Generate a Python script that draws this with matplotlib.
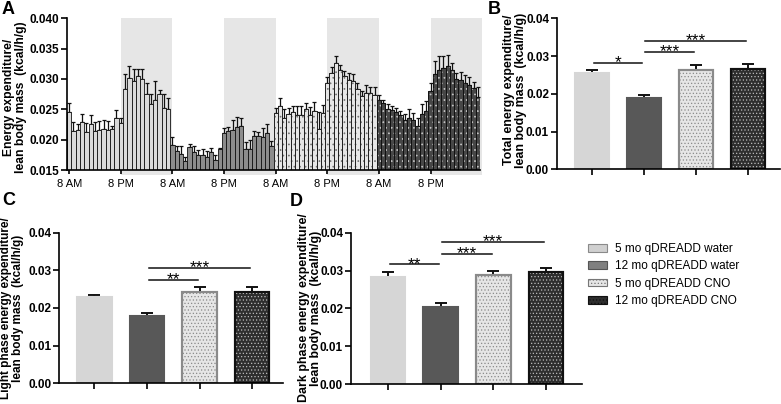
import matplotlib
matplotlib.use('Agg')
import matplotlib.pyplot as plt
from matplotlib.patches import Patch
import numpy as np

plt.rcParams['font.family'] = ['Liberation Sans', 'DejaVu Sans']
plt.rcParams['hatch.linewidth'] = 0.5

groups = ['5 mo qDREADD water', '12 mo qDREADD water',
          '5 mo qDREADD CNO', '12 mo qDREADD CNO']

# panel A: hourly energy expenditure, 24 h per group starting at 8 AM
g1_mean = [0.0245, 0.0214, 0.0216, 0.0229, 0.0213, 0.0225, 0.0214, 0.0216,
           0.0217, 0.0216, 0.0217, 0.0235, 0.0228, 0.0283, 0.0302, 0.0297,
           0.0305, 0.0300, 0.0276, 0.0259, 0.0266, 0.0276, 0.0253, 0.0250]
g1_err = [0.0016, 0.0015, 0.0010, 0.0014, 0.0015, 0.0015, 0.0015, 0.0014,
          0.0015, 0.0015, 0.0006, 0.0014, 0.0008, 0.0025, 0.0019, 0.0020,
          0.0012, 0.0016, 0.0018, 0.0017, 0.0030, 0.0006, 0.0022, 0.0018]
g2_mean = [0.0192, 0.0181, 0.0177, 0.0165, 0.0188, 0.0180, 0.0174, 0.0175,
           0.0171, 0.0180, 0.0167, 0.0184, 0.0211, 0.0214, 0.0216, 0.0221,
           0.0222, 0.0185, 0.0185, 0.0206, 0.0206, 0.0204, 0.0211, 0.0190]
g2_err = [0.0012, 0.0009, 0.0013, 0.0007, 0.0005, 0.0009, 0.0009, 0.0010,
          0.0011, 0.0006, 0.0007, 0.0003, 0.0008, 0.0007, 0.0016, 0.0016,
          0.0014, 0.0011, 0.0015, 0.0008, 0.0006, 0.0016, 0.0014, 0.0008]
g3_mean = [0.0244, 0.0256, 0.0235, 0.0243, 0.0246, 0.0241, 0.0241, 0.0250,
           0.0241, 0.0248, 0.0218, 0.0244, 0.0293, 0.0310, 0.0326, 0.0314,
           0.0305, 0.0299, 0.0296, 0.0284, 0.0272, 0.0277, 0.0277, 0.0274]
g3_err = [0.0009, 0.0012, 0.0016, 0.0009, 0.0010, 0.0015, 0.0015, 0.0010,
          0.0013, 0.0014, 0.0027, 0.0013, 0.0010, 0.0009, 0.0012, 0.0009,
          0.0008, 0.0011, 0.0012, 0.0010, 0.0008, 0.0013, 0.0010, 0.0013]
g4_mean = [0.0266, 0.0260, 0.0251, 0.0249, 0.0245, 0.0240, 0.0233, 0.0236,
           0.0233, 0.0222, 0.0243, 0.0248, 0.0280, 0.0309, 0.0315, 0.0318,
           0.0321, 0.0315, 0.0300, 0.0298, 0.0294, 0.0290, 0.0285, 0.0271]
g4_err = [0.0008, 0.0006, 0.0008, 0.0006, 0.0008, 0.0007, 0.0010, 0.0015,
          0.0011, 0.0013, 0.0015, 0.0015, 0.0013, 0.0020, 0.0023, 0.0020,
          0.0018, 0.0012, 0.0010, 0.0013, 0.0012, 0.0014, 0.0010, 0.0015]
hour_ticks = ['8 AM', '8 PM'] * 4

# panels B-D: group means
total_mean = [0.0254, 0.0190, 0.0262, 0.0267]
total_err = [0.0009, 0.0008, 0.0014, 0.0012]
light_mean = [0.0228, 0.0178, 0.0241, 0.0242]
light_err = [0.0007, 0.0008, 0.0015, 0.0014]
dark_mean = [0.0282, 0.0204, 0.0287, 0.0295]
dark_err = [0.0013, 0.0010, 0.0012, 0.0012]

# significance bars: (from, to, height, label)
total_sig = [(0, 1, 0.0282, '*'), (1, 2, 0.0311, '***'), (1, 3, 0.0341, '***')]
light_sig = [(1, 2, 0.0274, '**'), (1, 3, 0.0307, '***')]
dark_sig = [(0, 1, 0.0316, '**'), (1, 2, 0.0343, '***'), (1, 3, 0.0376, '***')]

# style per group: face, edge, dot colour (None = no dots)
a_style = [('#dadada', '#111111', None), ('#8c8c8c', '#111111', None),
           ('#e6e6e6', '#222222', '#707070'), ('#474747', '#111111', '#c8c8c8')]
bar_style = [('#d6d6d6', '#d6d6d6', None), ('#585858', '#585858', None),
             ('#e6e6e6', '#8a8a8a', '#8a8a8a'), ('#2e2e2e', '#111111', '#bbbbbb')]


def draw_bars(ax, x, h, width, style, lw, hatch, zorder=2):
    face, edge, dots = style
    ax.bar(x, h, width, color=face, edgecolor=edge, linewidth=lw, zorder=zorder)
    if dots is not None:
        ax.bar(x, h, width, facecolor='none', edgecolor=dots, hatch=hatch,
               linewidth=0, zorder=zorder + 0.1)
        ax.bar(x, h, width, facecolor='none', edgecolor=edge, linewidth=lw,
               zorder=zorder + 0.2)


def style_axes(ax):
    ax.spines['top'].set_visible(False)
    ax.spines['right'].set_visible(False)
    ax.spines['left'].set_linewidth(1.2)
    ax.spines['bottom'].set_linewidth(1.2)
    ax.tick_params(axis='y', direction='out', length=4, width=1.2, labelsize=8.5, pad=1.5)
    ax.tick_params(axis='x', direction='out', length=4, width=1.2)
    for lab in ax.get_yticklabels():
        lab.set_fontweight('bold')


fig = plt.figure(figsize=(7.81, 4.04), dpi=100)

# ---- panel A
axA = fig.add_axes([0.0858, 0.5792, 0.5288, 0.3755])
hours = np.arange(96)
for k in range(4):
    axA.axvspan(12 + 24 * k, 24 + 24 * k, ymin=-0.03, ymax=1, color='#e6e6e6',
                lw=0, zorder=0, clip_on=False)
for k, (m, e) in enumerate([(g1_mean, g1_err), (g2_mean, g2_err),
                            (g3_mean, g3_err), (g4_mean, g4_err)]):
    x = hours[24 * k:24 * (k + 1)]
    draw_bars(axA, x, m, 1.0, a_style[k], 0.6, '...')
    axA.errorbar(x, m, yerr=[np.zeros(len(e)), e], fmt='none', ecolor='#111111',
                 elinewidth=0.9, capsize=1.3, capthick=0.9, zorder=1.5)
axA.set_xlim(-0.5, 95.5)
axA.set_ylim(0.015, 0.040)
axA.set_yticks(np.arange(0.015, 0.0401, 0.005))
axA.set_yticklabels(['%.3f' % v for v in np.arange(0.015, 0.0401, 0.005)])
axA.set_xticks(np.arange(0, 96, 12))
axA.set_xticklabels(hour_ticks, fontsize=8)
style_axes(axA)
axA.tick_params(axis='x', length=3)


# ---- panels B-D
def summary_panel(rect, mean, err, sig, xlim):
    ax = fig.add_axes(rect)
    x = np.arange(4)
    for i in range(4):
        draw_bars(ax, [x[i]], [mean[i]], 0.66, bar_style[i], 1.5, '.....')
    ax.errorbar(x, mean, yerr=[np.zeros(4), err], fmt='none', ecolor='#111111',
                elinewidth=1.4, capsize=4.4, capthick=1.4, zorder=1.5)
    for i, j, y, lab in sig:
        ax.plot([i + 0.03, j - 0.03], [y, y], color='#111111', lw=1.1, clip_on=False)
        ax.text((i + j) / 2, y - 0.0011, lab, ha='center', va='baseline',
                fontsize=12.5, clip_on=False)
    ax.set_xlim(*xlim)
    ax.set_ylim(0, 0.04)
    ax.set_yticks(np.arange(0, 0.0401, 0.01))
    ax.set_yticklabels(['%.2f' % v for v in np.arange(0, 0.0401, 0.01)])
    ax.set_xticks(x)
    ax.set_xticklabels([])
    style_axes(ax)
    return ax


summary_panel([0.7128, 0.5809, 0.2859, 0.3738], total_mean, total_err, total_sig,
              (-0.68, 3.62))
summary_panel([0.0759, 0.0512, 0.2865, 0.3733], light_mean, light_err, light_sig,
              (-0.67, 3.59))
summary_panel([0.449, 0.0495, 0.2958, 0.3745], dark_mean, dark_err, dark_sig,
              (-0.71, 3.68))

# ---- y labels and panel letters
W, H = 781.0, 404.0
ylabels = [(15, 97, 8.7, 'Energy expenditure/\nlean body mass  (kcal/h/g)'),
           (515, 90, 8.9, 'Total energy expenditure/\nlean body mass  (kcal/h/g)'),
           (12, 308, 8.5, 'Light phase energy expenditure/\nlean body mass  (kcal/h/g)'),
           (310, 308, 8.9, 'Dark phase energy expenditure/\nlean body mass  (kcal/h/g)')]
for px, py, fs, txt in ylabels:
    fig.text(px / W, 1 - py / H, txt, rotation=90, ha='center', va='center',
             fontsize=fs, fontweight='bold', linespacing=1.0)

for px, py, lab in [(2, 1, 'A'), (488, 1, 'B'), (2, 192, 'C'), (290, 193, 'D')]:
    fig.text(px / W, 1 - py / H, lab, ha='left', va='top', fontsize=13,
             fontweight='bold')

# ---- legend
handles = [Patch(facecolor='#d0d0d0', edgecolor='#8a8a8a', linewidth=0.8),
           Patch(facecolor='#808080', edgecolor='#555555', linewidth=0.8),
           Patch(facecolor='#e6e6e6', edgecolor='#777777', hatch='.....', linewidth=0.8),
           Patch(facecolor='#2e2e2e', edgecolor='#111111', hatch='.....', linewidth=0.8)]
fig.legend(handles, groups, loc='upper left', bbox_to_anchor=(588 / W, 1 - 243 / H),
           frameon=False, fontsize=8.5, handlelength=1.6, handleheight=0.6,
           handletextpad=0.7, labelspacing=0.45, borderaxespad=0, borderpad=0)

fig.savefig('out.png', dpi=100)
